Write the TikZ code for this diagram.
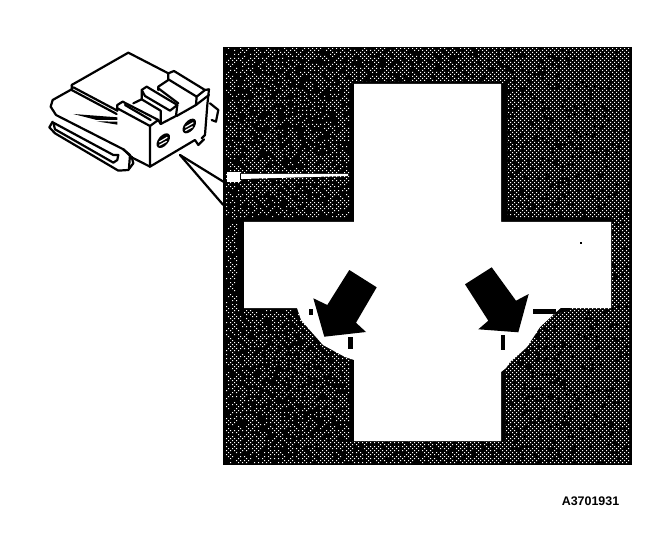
\documentclass[tikz,border=0pt]{standalone}
\usepackage{fontspec}
\setmainfont{Liberation Sans}
\tikzset{
  line/.style={draw=black,line width=2.2bp,line join=round,line cap=round},
  solidblack/.style={fill=black,draw=none}
}
\begin{document}
\begin{tikzpicture}[x=1bp,y=-1bp]
\useasboundingbox (0,0) rectangle (672,556);
% block
\fill[black] (223,47) rectangle (631.5,465);
\begin{scope}
\clip (226,49) rectangle (629,463);
\pgfmathsetseed{3701}
\pgfsetfillcolor{white}
\foreach \j in {0,2,...,416}{
  \pgfmathtruncatemacro{\off}{2*mod(\j/2,2)}
  \foreach \i in {0,4,...,408}{
    \pgfmathrandominteger{\r}{0}{99}
    \pgfmathtruncatemacro{\lim}{58+\i/11}
    \ifnum\r<\lim\relax
      \pgfpathrectangle{\pgfpoint{\the\numexpr224+\i+\off\relax bp}{\the\numexpr-49-\j\relax bp}}{\pgfpoint{1bp}{1bp}}
    \fi
  }
  \pgfusepath{fill}
}
\end{scope}
% dark bands along the cross
\fill[black] (350,84) rectangle (354,222);
\fill[black] (238,218) rectangle (354,222);
\fill[black] (238,218) rectangle (244,309);
\fill[black] (501,84) rectangle (507,222);
\fill[black] (501,218) rectangle (611,222);
\fill[black] (354,82) rectangle (501,84);
\fill[black] (350,360) rectangle (354,441);
\fill[black] (501,363) rectangle (505,441);
\fill[black] (244,308) rectangle (298,310);
% white cross with its flared corners
\fill[white] (354,84) -- (501,84) -- (501,222) -- (611,222) -- (611,308)
  -- (561,308) -- (553,315) -- (540,327) -- (527,347) -- (510,362) -- (506,368) -- (501,372)
  -- (501,441) -- (354,441) -- (354,360) -- (345,357) -- (323,345) -- (301,320) -- (297,308)
  -- (244,308) -- (244,222) -- (354,222) -- cycle;
% slit
\fill[white] (241,174) -- (348,174) -- (348,176) -- (241,179) -- cycle;
\fill[white] (227,172) rectangle (240,182);
\fill[black] (561,308) -- (570,308) -- (570,310) -- (553,315) -- cycle;
% edge fragments
\fill[solidblack] (309,309) rectangle (313,315);
\fill[solidblack] (348,337) rectangle (353,349);
\fill[solidblack] (501,335) rectangle (505,350);
\fill[solidblack] (533,309) rectangle (556,314);
\fill[solidblack] (579.5,242) rectangle (582,244.5);
% arrows
\fill[solidblack] (349.3,270) -- (376.7,287.3) -- (356,322.7) -- (366,332) -- (324.3,336.7) -- (313.3,298.3) -- (327.3,305) -- cycle;
\fill[solidblack] (491.7,267.3) -- (465,284.3) -- (488.3,320.7) -- (478.3,329.3) -- (518.3,332.3) -- (528.7,294) -- (516,300.7) -- cycle;
% connector
\begin{scope}[shift={(30,40)},x=0.3333bp,y=-0.3333bp]
\draw[line] (125,135) -- (295,38) -- (415,100);
% upper flap
\draw[line] (125,135) -- (125,148) -- (68,180) -- (62,200) -- (78,225) -- (280,328) -- (305,352);
\draw[line] (130,142) -- (262,212);
\draw[line] (125,150) -- (260,222);
% lower flap
\draw[line] (68,245) -- (58,262) -- (75,280) -- (265,392) -- (295,390) -- (310,370) -- (305,350);
\draw[line] (70,248) -- (250,345) -- (265,345) -- (262,360) -- (250,368) -- (75,268) -- (70,248);
\draw[line] (280,328) -- (300,345) -- (297,385);
\draw[line] (305,352) -- (360,380);
\fill[solidblack] (130,222) -- (262,232) -- (262,240) -- (200,240) -- cycle;
\fill[solidblack] (200,244) -- (262,245) -- (262,254) -- cycle;
% ribs
\draw[line] (262,212) -- (262,195) -- (278,185) -- (385,240) -- (360,258) -- (262,205);
\draw[line] (285,195) -- (362,240);
\draw[line] (310,190) -- (335,178) -- (335,150) -- (350,140) -- (442,195) -- (420,212) -- (345,168) -- (335,150);
\draw[line] (335,178) -- (392,212) -- (392,252);
\draw[line] (385,240) -- (392,252) -- (438,228) -- (442,195);
\draw[line] (385,150) -- (385,140) -- (415,120) -- (415,100) -- (432,93) -- (525,150) -- (500,170) -- (415,118);
\draw[line] (385,145) -- (445,190);
\draw[line] (500,170) -- (498,195) -- (440,228);
\draw[line] (525,150) -- (537,148) -- (532,195) -- (525,285) -- (515,295);
\draw[line] (498,195) -- (537,165);
% front face
\draw[line] (360,258) -- (360,380) -- (495,300) -- (505,315) -- (522,298);
% side tab
\draw[line] (540,190) -- (565,210) -- (558,245) -- (545,240);
% screws
\fill[black] (400,302) ellipse [x radius=26,y radius=15,rotate=50];
\draw[white,line width=1.2bp] (388,306) -- (412,292);
\draw[white,line width=1.2bp] (388,316) -- (410,304);
\fill[black] (478,258) ellipse [x radius=26,y radius=15,rotate=50];
\draw[white,line width=1.2bp] (466,262) -- (490,248);
\draw[white,line width=1.2bp] (466,272) -- (488,260);
% leaders
\coordinate (tip) at (450,345);
\coordinate (endA) at (580,425);
\coordinate (endB) at (580,495);
\draw[line] (tip) -- (endA);
\draw[line] (tip) -- (endB);
\end{scope}
\node[font=\fontsize{12.5}{14}\selectfont\bfseries,inner sep=0pt] (code) at (590.5,501) {A3701931};
\end{tikzpicture}
\end{document}
